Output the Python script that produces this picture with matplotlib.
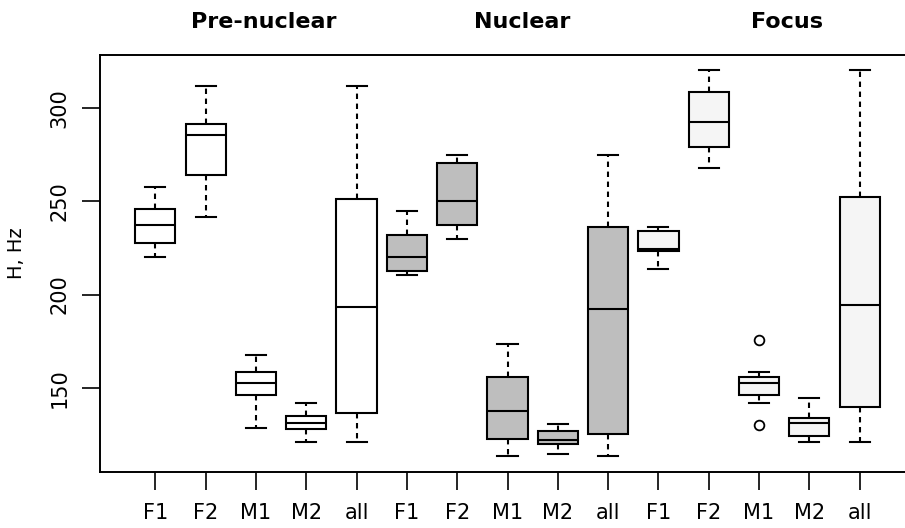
import matplotlib.pyplot as plt
from matplotlib.transforms import blended_transform_factory

# five groups per position: F1, F2, M1, M2, all
labels = ["F1", "F2", "M1", "M2", "all"] * 3
sections = ["Pre-nuclear", "Nuclear", "Focus"]
section_fill = ["white", "#bebebe", "#f5f5f5"]

whislo = [220, 241.6, 128.5, 121, 121,
          210.5, 229.8, 113.3, 114.4, 113.3,
          213.6, 267.8, 141.6, 121, 121]
q1 = [227.7, 264.4, 145.9, 127.7, 136.3,
      212.7, 237.5, 122.3, 120, 125.3,
      223.4, 279.4, 146.1, 124.2, 139.5]
med = [237.5, 285.8, 152.4, 131.2, 193.2,
       220, 250.1, 137.3, 122.1, 192.3,
       224.5, 292.5, 152.4, 130.9, 194.4]
q3 = [245.9, 291.4, 158.6, 135, 251.3,
      232.1, 270.6, 155.6, 126.6, 236.1,
      234.1, 308.6, 155.6, 133.9, 252.6]
whishi = [257.7, 312, 167.4, 141.6, 312,
          244.9, 274.9, 173.6, 130.7, 274.9,
          236.3, 320.4, 158.4, 144.6, 320.4]
fliers = [[], [], [], [], [],
          [], [], [], [], [],
          [], [], [175.4, 130.1], [], []]

stats = []
for i in range(15):
    stats.append(dict(whislo=whislo[i], q1=q1[i], med=med[i], q3=q3[i],
                      whishi=whishi[i], fliers=fliers[i]))

plt.rcParams['font.family'] = ['DejaVu Sans Condensed', 'DejaVu Sans']

fig = plt.figure(figsize=(9.05, 5.28), dpi=100)
W, H = 905, 528
ax = fig.add_axes([100 / W, (H - 472) / H, 815 / W, 417 / H])

positions = list(range(1, 16))
lw = 1.5
parts = ax.bxp(stats, positions=positions, widths=0.8, capwidths=0.4,
               patch_artist=True,
               boxprops=dict(linewidth=lw, edgecolor='black'),
               whiskerprops=dict(linewidth=lw, color='black', linestyle=(0, (2.6, 2.2))),
               capprops=dict(linewidth=lw, color='black'),
               medianprops=dict(linewidth=lw, color='black'),
               flierprops=dict(marker='o', markersize=7, markerfacecolor='none',
                               markeredgecolor='black', markeredgewidth=1.3))

for i, box in enumerate(parts['boxes']):
    box.set_facecolor(section_fill[i // 5])

ax.set_xlim(-0.1, 16.1)
ax.set_ylim(104.7, 328.6)

ax.set_xticks(positions)
ax.set_xticklabels(labels, fontsize=15)
ax.set_yticks([150, 200, 250, 300])
ax.set_yticklabels(["150", "200", "250", "300"], fontsize=15, rotation=90, va='center')
ax.tick_params(axis='x', length=13, width=1.2, pad=9)
ax.tick_params(axis='y', length=13, width=1.2, pad=9)
for s in ax.spines.values():
    s.set_linewidth(1.4)
ax.spines['right'].set_visible(False)

# section headings above the panel
trans = blended_transform_factory(ax.transData, fig.transFigure)
for x, name in zip([3.15, 8.3, 13.55], sections):
    ax.text(x, 1 - 22 / H, name, transform=trans, ha='center', va='center',
            fontsize=16, fontweight='bold')

fig.text(17 / W, 1 - 253 / H, "H, Hz", rotation=90, ha='center', va='center', fontsize=14)

fig.savefig("out.png", dpi=100)
